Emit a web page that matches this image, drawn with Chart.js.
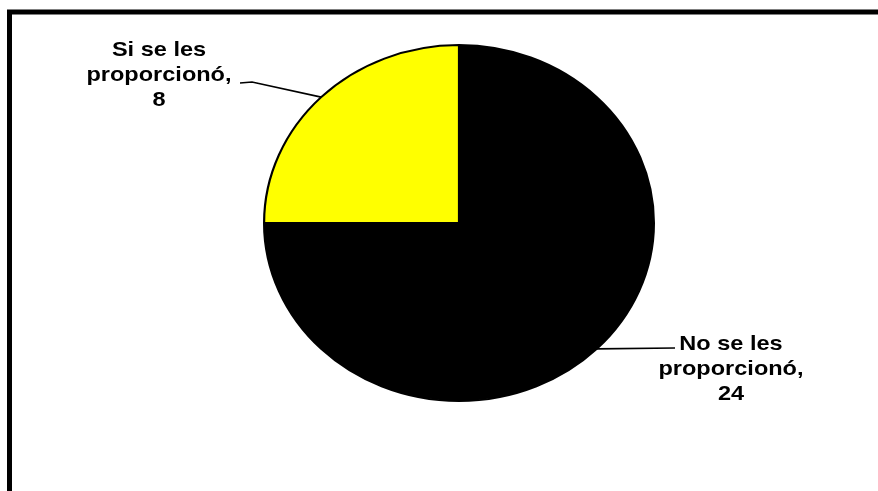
<!DOCTYPE html>
<html>
<head>
<meta charset="utf-8">
<script src="https://cdn.jsdelivr.net/npm/chart.js@4/dist/chart.umd.min.js"></script>
<style>
  html, body { margin: 0; padding: 0; background: #fff; }
  canvas { display: block; }
</style>
</head>
<body>
<canvas id="chartPie" width="878" height="491"></canvas>
<script>
// data
const categories = ['No se les proporcionó', 'Si se les proporcionó'];
const values = [24, 8];
const sliceColors = ['#000000', '#ffff00'];

// label placement (center x, first baseline) per slice
const labelPos = [
    { x: 731, y: 350, elbow: null, end: [675, 348] },
    { x: 159, y: 56, elbow: [252, 82], end: [240, 83] }
];
const stretchX = 1.095; // the original pie is a bit wider than tall
const textStretch = 1.12;

// split "No se les proporcionó" -> ["No se les", "proporcionó,", "24"]
function labelLines(i) {
    const words = categories[i].split(' ');
    const last = words.pop();
    return [words.join(' '), last + ',', String(values[i])];
}

const piePlugin = {
    id: 'piePlugin',
    beforeDatasetsDraw(chart) {
        const c = chart.ctx;
        const arc = chart.getDatasetMeta(0).data[0];
        c.save();
        c.translate(arc.x, 0);
        c.scale(stretchX, 1);
        c.translate(-arc.x, 0);
    },
    afterDatasetsDraw(chart) {
        chart.ctx.restore();
    },
    afterDraw(chart) {
        const c = chart.ctx;
        // outer frame
        c.save();
        c.strokeStyle = '#000';
        c.lineWidth = 5;
        c.strokeRect(9.5, 12, 900, 600);
        c.restore();

        const arcs = chart.getDatasetMeta(0).data;
        arcs.forEach((arc, i) => {
            const p = arc.getProps(['x', 'y', 'startAngle', 'endAngle', 'outerRadius']);
            const mid = (p.startAngle + p.endAngle) / 2;
            const ex = p.x + Math.cos(mid) * p.outerRadius * stretchX;
            const ey = p.y + Math.sin(mid) * p.outerRadius;
            const lp = labelPos[i];

            // leader line
            c.save();
            c.strokeStyle = '#000';
            c.lineWidth = 1.6;
            c.beginPath();
            c.moveTo(ex, ey);
            if (lp.elbow) c.lineTo(lp.elbow[0], lp.elbow[1]);
            c.lineTo(lp.end[0], lp.end[1]);
            c.stroke();
            c.restore();

            // label text
            c.save();
            c.fillStyle = '#000';
            c.font = 'bold 21px "Liberation Sans", Arial, sans-serif';
            c.textAlign = 'center';
            c.textBaseline = 'alphabetic';
            labelLines(i).forEach((line, k) => {
                c.save();
                c.translate(lp.x, lp.y + k * 25);
                c.scale(textStretch, 1);
                c.fillText(line, 0, 0);
                c.restore();
            });
            c.restore();
        });
    }
};

new Chart(document.getElementById('chartPie').getContext('2d'), {
    type: 'pie',
    data: {
        labels: categories,
        datasets: [{
            data: values,
            backgroundColor: sliceColors,
            borderColor: '#000000',
            borderWidth: 2
        }]
    },
    options: {
        responsive: false,
        animation: false,
        layout: { padding: { top: 44, bottom: 89, left: 280, right: 240 } },
        plugins: {
            legend: { display: false },
            tooltip: { enabled: false }
        }
    },
    plugins: [piePlugin]
});
</script>
</body>
</html>
